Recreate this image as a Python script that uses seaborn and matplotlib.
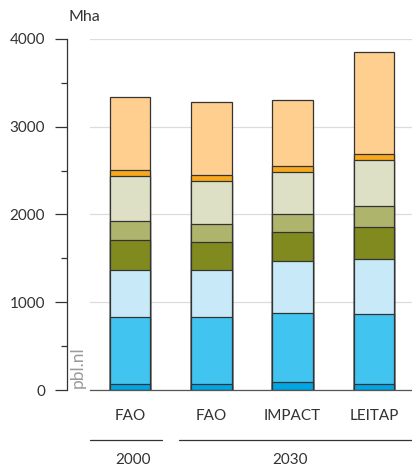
import pandas as pd
import seaborn as sns
import matplotlib.pyplot as plt
from matplotlib.lines import Line2D
from matplotlib.ticker import MultipleLocator

# scenario bars (left to right) and their labels
scenarios = ["FAO 2000", "FAO 2030", "IMPACT 2030", "LEITAP 2030"]
tick_labels = ["FAO", "FAO", "IMPACT", "LEITAP"]

# stacked segments, bottom to top (Mha)
layers = ["seg1", "seg2", "seg3", "seg4", "seg5", "seg6", "seg7", "seg8"]
fao_2000 = [72, 756, 536, 341, 221, 516, 65, 835]
fao_2030 = [65, 763, 536, 319, 212, 490, 61, 836]
impact_2030 = [87, 790, 593, 327, 205, 478, 73, 755]
leitap_2030 = [72, 798, 627, 361, 235, 524, 69, 1166]

colors = ["#00a6e4", "#41c4f0", "#c8e9f8", "#818a1f",
          "#afb46d", "#dde0c4", "#f8a81a", "#fecf8e"]

rows = []
for scen, vals in zip(scenarios, [fao_2000, fao_2030, impact_2030, leitap_2030]):
    top = 0
    for lay, v in zip(layers, vals):
        top += v
        rows.append({"scenario": scen, "layer": lay, "value": v, "top": top})
df = pd.DataFrame(rows)

sns.set_style("ticks")
plt.rcParams["font.family"] = ["Lato", "DejaVu Sans"]

fig = plt.figure(figsize=(4.12, 4.67), dpi=100)
ax = fig.add_axes([90 / 412, 1 - 390 / 467, 322 / 412, 351 / 467])

# draw cumulative tops from the highest layer down, so the stack shows
for i in reversed(range(len(layers))):
    sub = df[df["layer"] == layers[i]]
    sns.barplot(data=sub, x="scenario", y="top", order=scenarios,
                color=colors[i], saturation=1, width=0.5, errorbar=None,
                edgecolor="#333333", linewidth=0.9, ax=ax)

ax.set_xlim(-0.492, 3.467)
ax.set_ylim(0, 4000)
ax.set_xlabel("")
ax.set_ylabel("")
ax.set_xticks(range(len(scenarios)))
ax.set_xticklabels(tick_labels)

ax.yaxis.set_major_locator(MultipleLocator(1000))
ax.yaxis.set_minor_locator(MultipleLocator(500))
ax.yaxis.grid(True, which="major", color="#dcdcdc", lw=0.9)
ax.set_axisbelow(True)

for s in ["top", "right"]:
    ax.spines[s].set_visible(False)
ax.spines["left"].set_position(("outward", 16.6))
ax.spines["left"].set_color("#333333")
ax.spines["left"].set_linewidth(0.9)
ax.spines["bottom"].set_color("#555555")
ax.spines["bottom"].set_linewidth(0.9)

ax.tick_params(axis="y", which="major", length=8.6, width=0.9,
               color="#333333", labelsize=11, labelcolor="#333333", pad=7)
ax.tick_params(axis="y", which="minor", length=4.3, width=0.9, color="#333333")
ax.tick_params(axis="x", length=0, labelsize=11, labelcolor="#333333", pad=14)

fig.text(68 / 412, 1 - 17 / 467, "Mha", fontsize=11.5, color="#333333",
         ha="left", va="center")
fig.text(78 / 412, 1 - 388 / 467, "pbl.nl", fontsize=12.5, color="#9a9a9a",
         rotation=90, ha="center", va="bottom")

# year grouping under the category labels
y_line = 1 - 440 / 467
fig.add_artist(Line2D([90 / 412, 162 / 412], [y_line, y_line], color="#333333", lw=0.9))
fig.add_artist(Line2D([179 / 412, 1.0], [y_line, y_line], color="#333333", lw=0.9))
fig.text(133 / 412, 1 - 460 / 467, "2000", fontsize=11, color="#333333",
         ha="center", va="center")
fig.text(290 / 412, 1 - 460 / 467, "2030", fontsize=11, color="#333333",
         ha="center", va="center")

fig.savefig("out.png", dpi=100)
